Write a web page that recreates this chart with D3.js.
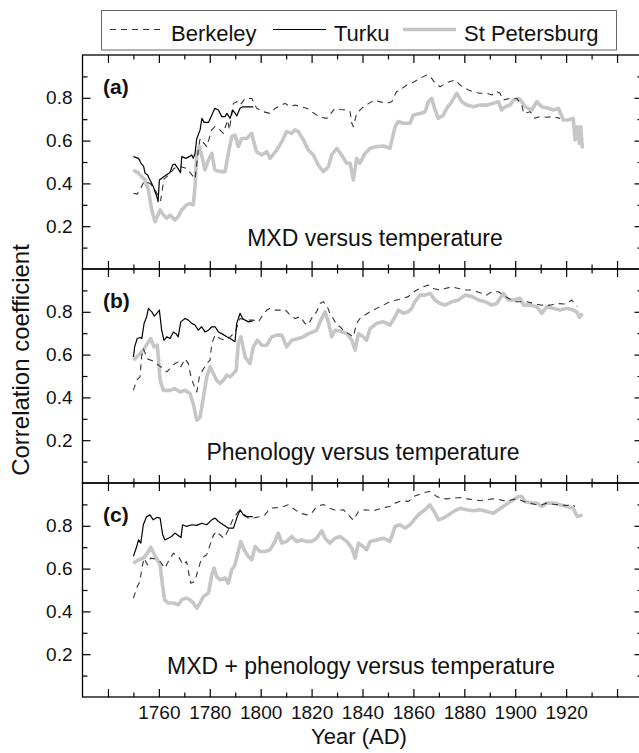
<!DOCTYPE html>
<html>
<head>
<meta charset="utf-8">
<script src="https://cdn.jsdelivr.net/npm/d3@7"></script>
<style>
  body { margin: 0; background: #fff; }
  svg { display: block; font-family: "Liberation Sans", Arial, sans-serif; }
</style>
</head>
<body>
<svg id="Chart"></svg>
<script>
// running correlations, [year, r]
let berkeleyA = [[1750,0.354],[1751.5,0.35],[1753,0.38],[1754.2,0.41],[1756.5,0.40],[1758.5,0.37],[1760.7,0.32],[1762,0.42],[1764,0.44],[1766,0.47],[1768,0.48],[1771,0.47],[1773,0.44],[1774.2,0.42],[1775.5,0.556],[1776.2,0.61],[1778.8,0.572],[1780.8,0.65],[1782,0.665],[1784,0.65],[1785.3,0.634],[1787,0.696],[1787.7,0.65],[1789.3,0.774],[1790.6,0.782],[1791.9,0.766],[1793.9,0.797],[1796.5,0.797],[1798.4,0.751],[1801,0.735],[1803.7,0.727],[1805.7,0.751],[1809.6,0.774],[1811.5,0.758],[1813.5,0.766],[1818.1,0.751],[1820,0.735],[1823.3,0.709],[1826,0.704],[1829.2,0.751],[1831.2,0.745],[1833.8,0.743],[1835.1,0.735],[1835.8,0.681],[1836.4,0.665],[1837.7,0.727],[1840.3,0.758],[1842.5,0.774],[1844.9,0.79],[1846.5,0.782],[1849.5,0.774],[1851.5,0.782],[1853.4,0.829],[1854.7,0.836],[1857.4,0.86],[1859.3,0.868],[1862.6,0.891],[1865.2,0.907],[1867.2,0.891],[1868.5,0.868],[1870.5,0.852],[1873.1,0.871],[1876.4,0.883],[1878.3,0.86],[1881.6,0.836],[1883.5,0.829],[1886.2,0.821],[1888.8,0.821],[1890.8,0.813],[1892.7,0.829],[1894,0.821],[1895.3,0.79],[1897.9,0.797],[1900.6,0.797],[1902.6,0.766],[1903.3,0.727],[1905.9,0.735],[1907.8,0.704],[1909.8,0.712],[1912.4,0.709],[1915,0.712],[1917.6,0.704]]
let turkuA = [[1750,0.525],[1752,0.517],[1753,0.494],[1754,0.48],[1754.6,0.447],[1755.5,0.44],[1756.5,0.416],[1757.8,0.385],[1758.5,0.361],[1759.2,0.338],[1759.7,0.315],[1760.2,0.416],[1761.8,0.43],[1763,0.44],[1764.3,0.45],[1765.4,0.486],[1766.3,0.49],[1767.5,0.47],[1768.5,0.45],[1769,0.525],[1770.6,0.517],[1771.9,0.525],[1772.9,0.533],[1773.5,0.517],[1774.2,0.54],[1774.9,0.61],[1776.2,0.65],[1776.9,0.704],[1777.8,0.685],[1779.5,0.685],[1780.8,0.72],[1782,0.751],[1783.4,0.743],[1784.7,0.712],[1786,0.712],[1786.7,0.727],[1788,0.704],[1789,0.743],[1790,0.727],[1790.6,0.715],[1791.9,0.751],[1792.9,0.758],[1794.5,0.758],[1797.1,0.758]]
let stpA = [[1750,0.463],[1752,0.447],[1754.6,0.416],[1755.9,0.369],[1757.2,0.276],[1758.5,0.221],[1760.5,0.276],[1761.8,0.252],[1763.1,0.237],[1764.4,0.252],[1766.3,0.229],[1767.6,0.245],[1769,0.276],[1770.9,0.3],[1772.2,0.307],[1773.5,0.3],[1774.2,0.385],[1774.9,0.533],[1775.9,0.572],[1776.8,0.533],[1778.1,0.463],[1779.5,0.51],[1780.8,0.54],[1782,0.463],[1784,0.455],[1786,0.455],[1787.3,0.54],[1788.6,0.618],[1789.9,0.626],[1791.2,0.572],[1792.5,0.61],[1794.5,0.61],[1796.5,0.634],[1797.1,0.603],[1798.4,0.548],[1800.4,0.533],[1802.4,0.548],[1803.7,0.517],[1806.3,0.556],[1808.3,0.595],[1810.2,0.642],[1812.2,0.634],[1813.4,0.65],[1814.8,0.642],[1816.8,0.603],[1818.7,0.556],[1820.7,0.533],[1822.6,0.486],[1824.6,0.455],[1826.6,0.478],[1827.9,0.533],[1829.9,0.564],[1831.8,0.533],[1833.8,0.494],[1835.1,0.494],[1836.4,0.416],[1837.7,0.517],[1839,0.494],[1841,0.54],[1843,0.564],[1845.6,0.572],[1848.2,0.575],[1850.8,0.564],[1852.8,0.665],[1854.1,0.689],[1856,0.681],[1858.7,0.681],[1860,0.72],[1862.6,0.727],[1864.6,0.735],[1865.9,0.782],[1867.2,0.797],[1868.5,0.743],[1869.8,0.704],[1871.8,0.72],[1873.1,0.751],[1875.1,0.782],[1877,0.821],[1879,0.782],[1881,0.766],[1883.6,0.758],[1886.2,0.766],[1888.8,0.766],[1891.4,0.774],[1893.4,0.782],[1894.7,0.743],[1896,0.758],[1898,0.766],[1899.3,0.79],[1901.3,0.797],[1902.6,0.782],[1903.9,0.758],[1906.5,0.743],[1908.5,0.782],[1910.4,0.758],[1913,0.751],[1915,0.743],[1917,0.751],[1918.9,0.696],[1920.9,0.696],[1922.8,0.704],[1923.5,0.603],[1924.4,0.665],[1925.2,0.587],[1925.7,0.665],[1926.4,0.564]]

let berkeleyB = [[1750,0.433],[1751.2,0.48],[1752.6,0.496],[1753.2,0.589],[1753.9,0.628],[1755.5,0.58],[1757.8,0.57],[1760,0.55],[1763.1,0.519],[1764.4,0.535],[1766.3,0.558],[1767.6,0.566],[1768.6,0.543],[1770.3,0.58],[1771.6,0.558],[1772.6,0.496],[1773.5,0.465],[1774.9,0.425],[1775.9,0.496],[1776.8,0.519],[1778.8,0.558],[1780.1,0.574],[1780.8,0.652],[1782.1,0.691],[1784,0.675],[1786,0.667],[1788,0.683],[1790,0.706],[1791.9,0.769],[1794.5,0.761],[1797.1,0.761],[1799.1,0.753],[1800.4,0.777],[1802.4,0.808],[1803.7,0.816],[1805.6,0.808],[1807.6,0.808],[1809.6,0.811],[1811.5,0.785],[1813.5,0.769],[1815.5,0.777],[1817.4,0.746],[1818.7,0.738],[1820.7,0.785],[1822,0.8],[1823.3,0.839],[1824.6,0.847],[1825.9,0.831],[1827.2,0.793],[1828.5,0.769],[1829.9,0.738],[1831.2,0.73],[1833.1,0.706],[1834.4,0.699],[1836.4,0.683],[1837.7,0.746],[1839,0.769],[1841,0.785],[1843,0.8],[1845.6,0.816],[1848.2,0.831],[1850.8,0.847],[1853.4,0.855],[1856,0.863],[1858,0.871],[1859.3,0.886],[1861.3,0.902],[1863.9,0.917],[1865.9,0.925],[1867.9,0.909],[1870.5,0.902],[1872.5,0.909],[1875.1,0.917],[1877.7,0.909],[1880.3,0.902],[1883,0.902],[1884.9,0.894],[1888.8,0.878],[1890.8,0.894],[1893.4,0.894],[1895.3,0.878],[1897.3,0.863],[1899.9,0.847],[1902.6,0.847],[1904.5,0.847],[1907.1,0.839],[1910.4,0.831],[1913.7,0.831],[1916.3,0.839],[1919.6,0.836],[1922.2,0.855],[1924.2,0.824]]
let turkuB = [[1750,0.589],[1750.5,0.637],[1751.5,0.675],[1752.6,0.68],[1753.3,0.675],[1754.2,0.746],[1755.2,0.777],[1755.9,0.816],[1757.2,0.8],[1758.2,0.78],[1759.2,0.793],[1760.2,0.808],[1761.1,0.714],[1762,0.667],[1763.1,0.683],[1764.4,0.675],[1765.7,0.706],[1766.7,0.698],[1767.6,0.683],[1768.6,0.753],[1770.3,0.769],[1771.6,0.761],[1772.9,0.746],[1774.2,0.738],[1775.5,0.714],[1776.8,0.73],[1778.1,0.706],[1779.5,0.714],[1780.8,0.73],[1782.1,0.73],[1783.4,0.706],[1784.7,0.698],[1786.7,0.683],[1788,0.675],[1789.9,0.66],[1790.6,0.746],[1791.9,0.793],[1792.9,0.769],[1793.9,0.761],[1795.2,0.753],[1796.9,0.757]]
let stpB = [[1750,0.574],[1752,0.597],[1753.9,0.621],[1755.5,0.652],[1756.8,0.675],[1758.1,0.636],[1759.4,0.644],[1760.5,0.48],[1761.8,0.433],[1764.4,0.433],[1766.3,0.441],[1768.3,0.425],[1770.3,0.433],[1772.2,0.418],[1773.5,0.371],[1774.9,0.293],[1776.2,0.308],[1777.5,0.402],[1778.8,0.496],[1780.1,0.543],[1781.4,0.512],[1782.7,0.48],[1784,0.465],[1785.3,0.48],[1786.7,0.504],[1788,0.496],[1789.3,0.512],[1790.4,0.527],[1791.2,0.652],[1792.2,0.683],[1793.9,0.589],[1795.8,0.558],[1797.1,0.636],[1798.7,0.667],[1800.4,0.644],[1802.4,0.644],[1804.3,0.683],[1806.3,0.691],[1808.3,0.691],[1810.2,0.636],[1812.2,0.667],[1814.8,0.675],[1816.8,0.683],[1818.7,0.698],[1820.7,0.706],[1822,0.714],[1823.3,0.753],[1825.3,0.8],[1826.6,0.753],[1827.9,0.683],[1829.2,0.714],[1831.2,0.71],[1833.8,0.698],[1835.8,0.667],[1837.1,0.621],[1838.4,0.698],[1840.3,0.683],[1841.6,0.667],[1843,0.722],[1845.6,0.746],[1848.2,0.753],[1850.8,0.738],[1852.8,0.777],[1854.1,0.808],[1856,0.793],[1858,0.8],[1859.3,0.816],[1860.6,0.847],[1862.6,0.878],[1864.6,0.878],[1866.5,0.886],[1868.5,0.855],[1870.5,0.839],[1872.5,0.831],[1875.1,0.847],[1877.7,0.855],[1880.3,0.878],[1883,0.871],[1885.5,0.855],[1888.2,0.847],[1890.8,0.831],[1892.7,0.839],[1895.3,0.886],[1897.3,0.855],[1899.3,0.855],[1901.9,0.863],[1903.3,0.831],[1905.9,0.831],[1908.5,0.824],[1910.4,0.793],[1912.4,0.824],[1915,0.816],[1917.6,0.808],[1920.2,0.816],[1922.8,0.808],[1924.2,0.8],[1925.2,0.774],[1926.4,0.793]]

let berkeleyC = [[1750,0.462],[1751.5,0.516],[1752.6,0.54],[1753.3,0.602],[1754.2,0.649],[1755.5,0.618],[1756.8,0.649],[1758.5,0.645],[1760.5,0.633],[1762.4,0.602],[1763.7,0.633],[1765.7,0.672],[1767.6,0.657],[1769.6,0.618],[1770.9,0.633],[1772.5,0.532],[1774.2,0.54],[1775.2,0.587],[1776.8,0.649],[1778.8,0.665],[1780.1,0.711],[1781.5,0.758],[1782.7,0.774],[1784,0.758],[1785.6,0.742],[1787.3,0.781],[1789.3,0.836],[1791.2,0.867],[1792.9,0.859],[1795.1,0.836],[1797.1,0.836],[1799.7,0.843],[1801.7,0.851],[1803.7,0.882],[1806.3,0.885],[1808.9,0.89],[1810.9,0.898],[1813.5,0.875],[1815.5,0.859],[1818.1,0.851],[1820,0.859],[1822,0.89],[1824.6,0.9],[1827.2,0.882],[1829.9,0.87],[1832.5,0.875],[1834.4,0.851],[1836.4,0.826],[1838.4,0.867],[1841,0.875],[1844.3,0.87],[1848.2,0.885],[1850.8,0.89],[1852.8,0.906],[1855.4,0.917],[1858.1,0.914],[1860,0.937],[1862.6,0.948],[1864.6,0.957],[1866.5,0.96],[1868.5,0.942],[1870.5,0.929],[1873.1,0.926],[1875.8,0.929],[1878.4,0.932],[1881,0.926],[1883.6,0.922],[1886.2,0.917],[1888.8,0.922],[1891.4,0.926],[1894,0.922],[1896.7,0.914],[1898.6,0.922],[1900.6,0.926],[1903.3,0.914],[1905.8,0.906],[1908.5,0.898],[1910.4,0.898],[1912.4,0.906],[1915,0.901],[1917.6,0.898],[1920.2,0.895],[1922.2,0.901],[1923.5,0.89]]
let turkuC = [[1750,0.657],[1751.3,0.703],[1752,0.734],[1752.9,0.719],[1753.9,0.805],[1755.2,0.843],[1756.5,0.851],[1757.8,0.828],[1759.2,0.839],[1760.5,0.836],[1761.5,0.758],[1762.4,0.734],[1763.7,0.742],[1765,0.75],[1766.3,0.766],[1767.6,0.755],[1768.7,0.745],[1769.3,0.805],[1770.9,0.797],[1772.9,0.805],[1774.9,0.802],[1776.8,0.812],[1778.8,0.805],[1780.8,0.828],[1782.1,0.836],[1783.4,0.82],[1785.3,0.805],[1787.3,0.789],[1789.3,0.789],[1790.6,0.836],[1791.9,0.875],[1793.2,0.851],[1794.5,0.843],[1796.9,0.843]]
let stpC = [[1750,0.625],[1752,0.641],[1753.9,0.649],[1755.5,0.672],[1756.8,0.699],[1758.1,0.668],[1759.4,0.641],[1760.5,0.618],[1761.4,0.525],[1762.2,0.455],[1763.7,0.439],[1765.7,0.439],[1767.7,0.431],[1769,0.455],[1770.7,0.462],[1772.2,0.455],[1773.5,0.439],[1774.9,0.416],[1776.2,0.439],[1777.5,0.47],[1779.5,0.486],[1780.8,0.571],[1781.7,0.602],[1782.7,0.563],[1784,0.548],[1786,0.556],[1787.3,0.532],[1788.6,0.594],[1789.9,0.618],[1791.2,0.68],[1792.2,0.727],[1793.5,0.688],[1795.1,0.657],[1796.5,0.641],[1797.8,0.703],[1799.7,0.68],[1801.7,0.68],[1803.7,0.688],[1805.6,0.727],[1806.9,0.766],[1808.3,0.719],[1810.2,0.727],[1812.2,0.75],[1814.1,0.727],[1816.1,0.734],[1818.1,0.727],[1820,0.727],[1822,0.742],[1824,0.777],[1825.3,0.742],[1827.2,0.719],[1829.2,0.742],[1831.2,0.75],[1833.8,0.727],[1835.8,0.696],[1837.1,0.649],[1838.4,0.719],[1840.3,0.703],[1841.6,0.688],[1843,0.727],[1845.6,0.734],[1848.2,0.742],[1850.8,0.727],[1852.8,0.797],[1854.7,0.805],[1856.8,0.789],[1858.7,0.805],[1860.8,0.836],[1862.6,0.859],[1864.6,0.875],[1866.5,0.898],[1868.5,0.859],[1869.8,0.828],[1871.8,0.836],[1873.7,0.851],[1875.8,0.867],[1878.3,0.882],[1880.9,0.875],[1883.5,0.87],[1886.2,0.875],[1888.8,0.867],[1891.4,0.859],[1893.4,0.875],[1895.3,0.89],[1897.3,0.906],[1899.3,0.922],[1901.3,0.937],[1902.6,0.937],[1903.9,0.914],[1906.5,0.906],[1908.5,0.906],[1910.4,0.89],[1912.4,0.906],[1915,0.906],[1917.6,0.898],[1920.2,0.89],[1922.8,0.882],[1924.4,0.843],[1926.4,0.851]]

let seriesNames = ["Berkeley", "Turku", "St Petersburg"]
let panelLetters = ["(a)", "(b)", "(c)"]
let panelTitles = ["MXD versus temperature", "Phenology versus temperature", "MXD + phenology versus temperature"]
let yearMajor = [1740, 1760, 1780, 1800, 1820, 1840, 1860, 1880, 1900, 1920, 1940]
let yearMinor = [1750, 1770, 1790, 1810, 1830, 1850, 1870, 1890, 1910, 1930]
let yearLabels = [1760, 1780, 1800, 1820, 1840, 1860, 1880, 1900, 1920]
let rMajor = [0.2, 0.4, 0.6, 0.8]
let rMinor = [0.1, 0.3, 0.5, 0.7, 0.9]

let panels = [
    { letter: panelLetters[0], title: panelTitles[0], series: [stpA, berkeleyA, turkuA] },
    { letter: panelLetters[1], title: panelTitles[1], series: [stpB, berkeleyB, turkuB] },
    { letter: panelLetters[2], title: panelTitles[2], series: [stpC, berkeleyC, turkuC] },
]

function getChartConfig() {
    let width = 639
    let height = 753
    let left = 82.5
    let right = 642.5 // the right frame sits just outside the picture
    let top = 55
    let panelHeight = 214
    let titleX = [375, 363, 361]
    // drawing order: grey first so the thin lines stay on top
    let styles = [
        { stroke: "#c6c6c6", width: 3.6, dash: null },
        { stroke: "#333", width: 1.1, dash: "6,5" },
        { stroke: "#000", width: 1.2, dash: null },
    ]
    let container = d3.select("#Chart")
        .attr("width", width)
        .attr("height", height)
    return { width, height, left, right, top, panelHeight, titleX, styles, container }
}

function getScales(config) {
    let { left, right, panelHeight } = config
    let xScale = d3.scaleLinear().domain([1730, 1950]).range([left, right])
    let yScale = d3.scaleLinear().domain([0, 1]).range([panelHeight, 0])
    return { xScale, yScale }
}

function styleAxis(g, size) {
    g.select(".domain").remove()
    g.selectAll(".tick line").attr("stroke", "#000").attr("stroke-width", 1.2)
    g.selectAll("text")
        .attr("fill", "#111")
        .style("font-family", "'Liberation Sans', Arial, sans-serif")
        .style("font-size", size + "px")
}

function drawPanelAxes(body, i, scales, config) {
    let { xScale, yScale } = scales
    let { left, right, panelHeight } = config
    let isLast = i === panels.length - 1

    // ticks all point into the frame
    body.append("g").call(d3.axisTop(xScale).tickValues(yearMajor).tickSize(-8).tickFormat(""))
        .call(g => styleAxis(g, 19))
    body.append("g").call(d3.axisTop(xScale).tickValues(yearMinor).tickSize(-4.5).tickFormat(""))
        .call(g => styleAxis(g, 19))

    body.append("g")
        .attr("transform", `translate(0,${panelHeight})`)
        .call(d3.axisBottom(xScale).tickValues(yearMajor).tickSize(-8).tickPadding(8.5)
            .tickFormat(d => isLast && yearLabels.includes(d) ? d : ""))
        .call(g => styleAxis(g, 19))
    body.append("g")
        .attr("transform", `translate(0,${panelHeight})`)
        .call(d3.axisBottom(xScale).tickValues(yearMinor).tickSize(-4.5).tickFormat(""))
        .call(g => styleAxis(g, 19))

    body.append("g")
        .attr("transform", `translate(${left},0)`)
        .call(d3.axisLeft(yScale).tickValues(rMajor).tickSize(-8).tickPadding(10).tickFormat(d3.format(".1f")))
        .call(g => styleAxis(g, 19))
    body.append("g")
        .attr("transform", `translate(${left},0)`)
        .call(d3.axisLeft(yScale).tickValues(rMinor).tickSize(-5).tickFormat(""))
        .call(g => styleAxis(g, 19))

    body.append("g")
        .attr("transform", `translate(${right},0)`)
        .call(d3.axisRight(yScale).tickValues(rMajor).tickSize(-8).tickFormat(""))
        .call(g => styleAxis(g, 19))
    body.append("g")
        .attr("transform", `translate(${right},0)`)
        .call(d3.axisRight(yScale).tickValues(rMinor).tickSize(-5).tickFormat(""))
        .call(g => styleAxis(g, 19))

    body.append("rect")
        .attr("x", left)
        .attr("y", 0)
        .attr("width", right - left)
        .attr("height", panelHeight)
        .attr("fill", "none")
        .attr("stroke", "#000")
        .attr("stroke-width", 1.3)
}

function drawPanelLines(body, panel, scales, config) {
    let { xScale, yScale } = scales
    let line = d3.line()
        .x(d => xScale(d[0]))
        .y(d => yScale(d[1]))

    panel.series.forEach((data, k) => {
        let s = config.styles[k]
        body.append("path")
            .datum(data)
            .attr("d", line)
            .attr("fill", "none")
            .attr("stroke", s.stroke)
            .attr("stroke-width", s.width)
            .attr("stroke-linejoin", "round")
            .attr("stroke-dasharray", s.dash)
    })
}

function drawPanelText(body, panel, i, config) {
    let { panelHeight, titleX } = config
    body.append("text")
        .attr("x", 103)
        .attr("y", 39)
        .attr("font-weight", "bold")
        .attr("font-size", 21)
        .attr("fill", "#111")
        .text(panel.letter)

    body.append("text")
        .attr("x", titleX[i])
        .attr("y", panelHeight - 23)
        .attr("text-anchor", "middle")
        .attr("font-size", 23)
        .attr("fill", "#111")
        .text(panel.title)
}

function drawLegend(config) {
    let { container, styles } = config
    let legend = container.append("g")
    legend.append("rect")
        .attr("x", 101.5).attr("y", 10.5)
        .attr("width", 515).attr("height", 39.5)
        .attr("fill", "#fff")
        .attr("stroke", "#666")
        .attr("stroke-width", 1)

    // legend order: Berkeley, Turku, St Petersburg
    let items = [
        { name: seriesNames[0], style: styles[1], x0: 110, x1: 163, tx: 171 },
        { name: seriesNames[1], style: styles[2], x0: 273, x1: 326, tx: 334 },
        { name: seriesNames[2], style: styles[0], x0: 403, x1: 456, tx: 464 },
    ]
    items.forEach(d => {
        legend.append("line")
            .attr("x1", d.x0).attr("x2", d.x1)
            .attr("y1", 29.5).attr("y2", 29.5)
            .attr("stroke", d.style.stroke)
            .attr("stroke-width", d.style.width)
            .attr("stroke-dasharray", d.style.dash)
        legend.append("text")
            .attr("x", d.tx)
            .attr("y", 41)
            .attr("font-size", 22)
            .attr("fill", "#111")
            .text(d.name)
    })
}

function drawAxisTitles(config) {
    let { container, top, panelHeight } = config
    container.append("text")
        .attr("transform", `translate(29,${360}) rotate(-90)`)
        .attr("text-anchor", "middle")
        .attr("font-size", 24)
        .attr("fill", "#111")
        .text("Correlation coefficient")

    container.append("text")
        .attr("x", 359)
        .attr("y", top + 3 * panelHeight + 47)
        .attr("text-anchor", "middle")
        .attr("font-size", 22)
        .attr("fill", "#111")
        .text("Year (AD)")
}

function drawChart() {
    let config = getChartConfig()
    let scales = getScales(config)

    panels.forEach((panel, i) => {
        let body = config.container.append("g")
            .attr("transform", `translate(0,${config.top + i * config.panelHeight})`)
        drawPanelLines(body, panel, scales, config)
        drawPanelAxes(body, i, scales, config)
        drawPanelText(body, panel, i, config)
    })

    drawLegend(config)
    drawAxisTitles(config)
}

drawChart()
</script>
</body>
</html>
